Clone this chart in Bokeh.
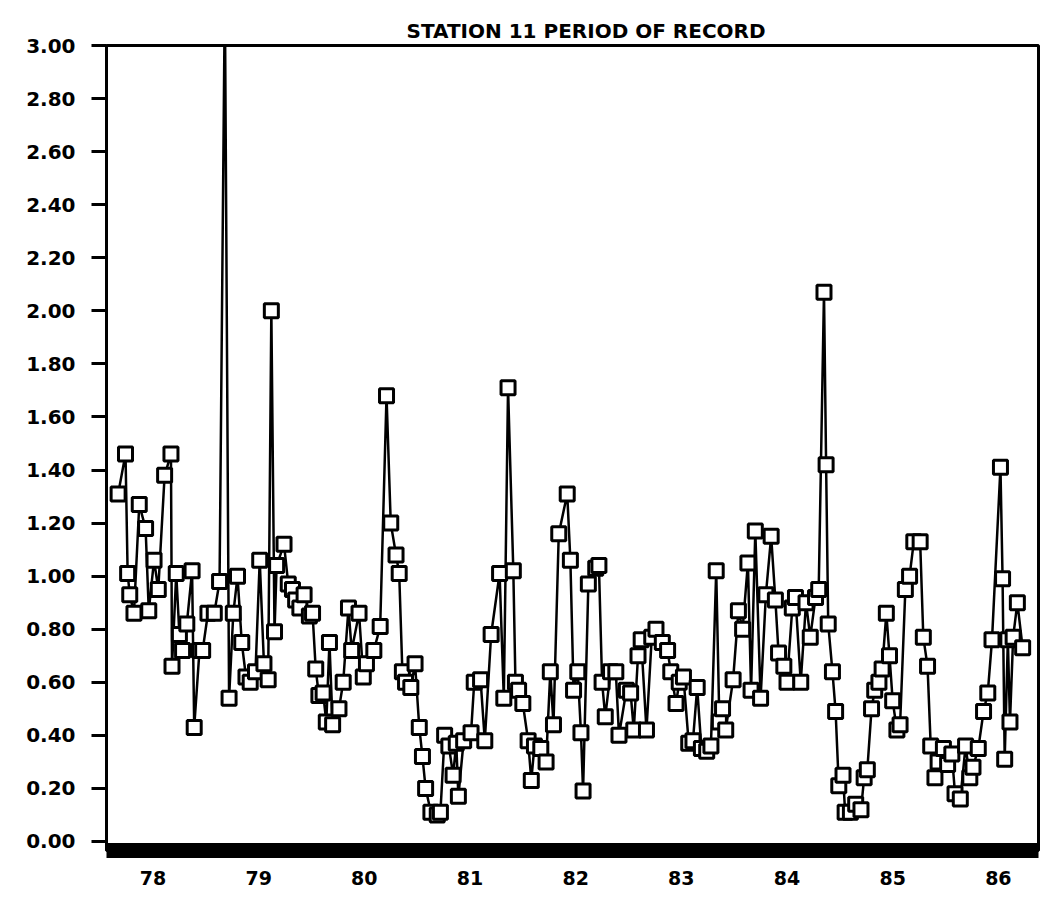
from bokeh.plotting import figure
from bokeh.models import Range1d, FixedTicker
from bokeh.embed import file_html
from bokeh.resources import INLINE

dates = [
    1978.17, 1978.24, 1978.26, 1978.28, 1978.32, 1978.37, 1978.43, 1978.46, 1978.51, 1978.55,
    1978.61, 1978.67, 1978.68, 1978.72, 1978.75, 1978.78, 1978.82, 1978.87, 1978.89, 1978.94,
    1978.97, 1979.02, 1979.08, 1979.13, 1979.18, 1979.22, 1979.26, 1979.30, 1979.34, 1979.38,
    1979.42, 1979.47, 1979.51, 1979.55, 1979.59, 1979.62, 1979.65, 1979.67, 1979.74, 1979.78,
    1979.82, 1979.85, 1979.89, 1979.93, 1979.98, 1980.01, 1980.04, 1980.07, 1980.11, 1980.14,
    1980.17, 1980.20, 1980.26, 1980.30, 1980.35, 1980.38, 1980.45, 1980.49, 1980.52, 1980.59,
    1980.65, 1980.71, 1980.75, 1980.80, 1980.83, 1980.86, 1980.89, 1980.94, 1980.98, 1981.02,
    1981.05, 1981.08, 1981.13, 1981.19, 1981.22, 1981.26, 1981.30, 1981.34, 1981.37, 1981.39,
    1981.44, 1981.51, 1981.54, 1981.60, 1981.64, 1981.70, 1981.78, 1981.82, 1981.86, 1981.91,
    1981.93, 1981.96, 1982.00, 1982.05, 1982.08, 1982.11, 1982.17, 1982.22, 1982.26, 1982.29,
    1982.34, 1982.42, 1982.45, 1982.48, 1982.52, 1982.55, 1982.57, 1982.62, 1982.69, 1982.72,
    1982.75, 1982.78, 1982.83, 1982.88, 1982.91, 1982.98, 1983.02, 1983.05, 1983.09, 1983.12,
    1983.17, 1983.22, 1983.26, 1983.32, 1983.37, 1983.40, 1983.45, 1983.48, 1983.52, 1983.57,
    1983.61, 1983.65, 1983.69, 1983.74, 1983.78, 1983.83, 1983.86, 1983.89, 1983.92, 1983.99,
    1984.04, 1984.08, 1984.13, 1984.16, 1984.20, 1984.25, 1984.30, 1984.35, 1984.39, 1984.42,
    1984.47, 1984.50, 1984.55, 1984.58, 1984.63, 1984.68, 1984.72, 1984.77, 1984.80, 1984.85,
    1984.87, 1984.89, 1984.93, 1984.96, 1984.99, 1985.03, 1985.05, 1985.10, 1985.15, 1985.20,
    1985.23, 1985.26, 1985.30, 1985.33, 1985.37, 1985.40, 1985.44, 1985.47, 1985.50, 1985.54,
    1985.57, 1985.62, 1985.66, 1985.70, 1985.76, 1985.79, 1985.83, 1985.86, 1985.90, 1985.93,
    1985.98, 1986.02, 1986.06, 1986.09, 1986.14, 1986.19, 1986.23, 1986.26, 1986.31, 1986.36,
    1986.40, 1986.44, 1986.52, 1986.54, 1986.56, 1986.59, 1986.61, 1986.64, 1986.68, 1986.73,
]
values = [
    1.31, 1.46, 1.01, 0.93, 0.86, 1.27, 1.18, 0.87, 1.06, 0.95,
    1.38, 1.46, 0.66, 1.01, 0.78, 0.72, 0.82, 1.02, 0.43, 0.72,
    0.72, 0.86, 0.86, 0.98, 3.20, 0.54, 0.86, 1.00, 0.75, 0.62,
    0.60, 0.64, 1.06, 0.67, 0.61, 2.00, 0.79, 1.04, 1.12, 0.97,
    0.95, 0.91, 0.88, 0.93, 0.85, 0.86, 0.65, 0.55, 0.56, 0.45,
    0.75, 0.44, 0.50, 0.60, 0.88, 0.72, 0.86, 0.62, 0.67, 0.72,
    0.81, 1.68, 1.20, 1.08, 1.01, 0.64, 0.60, 0.58, 0.67, 0.43,
    0.32, 0.20, 0.11, 0.10, 0.11, 0.40, 0.36, 0.25, 0.37, 0.17,
    0.38, 0.41, 0.60, 0.61, 0.38, 0.78, 1.01, 0.54, 1.71, 1.02,
    0.60, 0.57, 0.52, 0.38, 0.23, 0.36, 0.35, 0.30, 0.64, 0.44,
    1.16, 1.31, 1.06, 0.57, 0.64, 0.41, 0.19, 0.97, 1.03, 1.04,
    0.60, 0.47, 0.64, 0.64, 0.40, 0.57, 0.56, 0.42, 0.70, 0.76,
    0.42, 0.77, 0.80, 0.75, 0.72, 0.64, 0.52, 0.60, 0.62, 0.37,
    0.38, 0.58, 0.35, 0.34, 0.36, 1.02, 0.45, 0.50, 0.42, 0.61,
    0.87, 0.80, 1.05, 0.57, 1.17, 0.54, 0.93, 1.15, 0.91, 0.71,
    0.66, 0.60, 0.88, 0.92, 0.60, 0.90, 0.77, 0.92, 0.95, 2.07,
    1.42, 0.82, 0.64, 0.49, 0.21, 0.25, 0.11, 0.11, 0.14, 0.12,
    0.24, 0.27, 0.50, 0.57, 0.60, 0.65, 0.86, 0.70, 0.53, 0.42,
    0.44, 0.95, 1.00, 1.13, 1.13, 0.77, 0.66, 0.36, 0.24, 0.30,
    0.35, 0.29, 0.33, 0.18, 0.16, 0.36, 0.24, 0.28, 0.35, 0.49,
    0.56, 0.76, 1.41, 0.99, 0.31, 0.76, 0.45, 0.77, 0.90, 0.73,
]

year_ticks = [1978.5, 1979.5, 1980.5, 1981.5, 1982.5, 1983.5, 1984.5, 1985.5, 1986.5]
year_labels = ["78", "79", "80", "81", "82", "83", "84", "85", "86"]
y_ticks = [0.0, 0.2, 0.4, 0.6, 0.8, 1.0, 1.2, 1.4, 1.6, 1.8, 2.0, 2.2, 2.4, 2.6, 2.8, 3.0]
y_labels = ["0.00", "0.20", "0.40", "0.60", "0.80", "1.00", "1.20", "1.40", "1.60",
            "1.80", "2.00", "2.20", "2.40", "2.60", "2.80", "3.00"]

p = figure(width=1058, height=904, output_backend="svg", toolbar_location=None,
           x_range=Range1d(1978.06, 1986.88), y_range=Range1d(-0.034, 3.0),
           min_border_left=106, min_border_right=20, min_border_top=45, min_border_bottom=54,
           title="STATION 11 PERIOD OF RECORD")

p.background_fill_color = "white"
p.border_fill_color = "white"
p.grid.visible = False
p.outline_line_color = "black"
p.outline_line_width = 3

p.title.text_font = "DejaVu Sans"
p.title.text_font_style = "bold"
p.title.text_font_size = "20px"
p.title.align = "left"
p.title.offset = 300
p.title.text_color = "black"
p.title.standoff = 6

# Y axis
p.yaxis.ticker = FixedTicker(ticks=y_ticks)
p.yaxis.major_label_overrides = dict(zip(y_ticks, y_labels))
p.yaxis.axis_line_width = 3
p.yaxis.axis_line_color = "black"
p.yaxis.major_tick_out = 15
p.yaxis.major_tick_in = 0
p.yaxis.major_tick_line_width = 3
p.yaxis.minor_tick_line_color = None
p.yaxis.major_label_standoff = 16
p.yaxis.major_label_text_font = "DejaVu Sans"
p.yaxis.major_label_text_font_style = "bold"
p.yaxis.major_label_text_font_size = "20px"
p.yaxis.major_label_text_color = "black"

# X axis: thick bar with year labels
p.xaxis.ticker = FixedTicker(ticks=year_ticks)
p.xaxis.major_label_overrides = dict(zip(year_ticks, year_labels))
p.xaxis.axis_line_width = 15
p.xaxis.axis_line_color = "black"
p.xaxis.major_tick_line_color = None
p.xaxis.minor_tick_line_color = None
p.xaxis.major_tick_out = 0
p.xaxis.major_tick_in = 0
p.xaxis.major_label_standoff = 20
p.xaxis.major_label_text_font = "DejaVu Sans"
p.xaxis.major_label_text_font_style = "bold"
p.xaxis.major_label_text_font_size = "19px"
p.xaxis.major_label_text_color = "black"

p.line(dates, values, line_color="black", line_width=2.5)
p.scatter(dates, values, marker="square", size=14, fill_color="white",
          line_color="black", line_width=3)

open("out.html", "w").write(file_html(p, INLINE))
